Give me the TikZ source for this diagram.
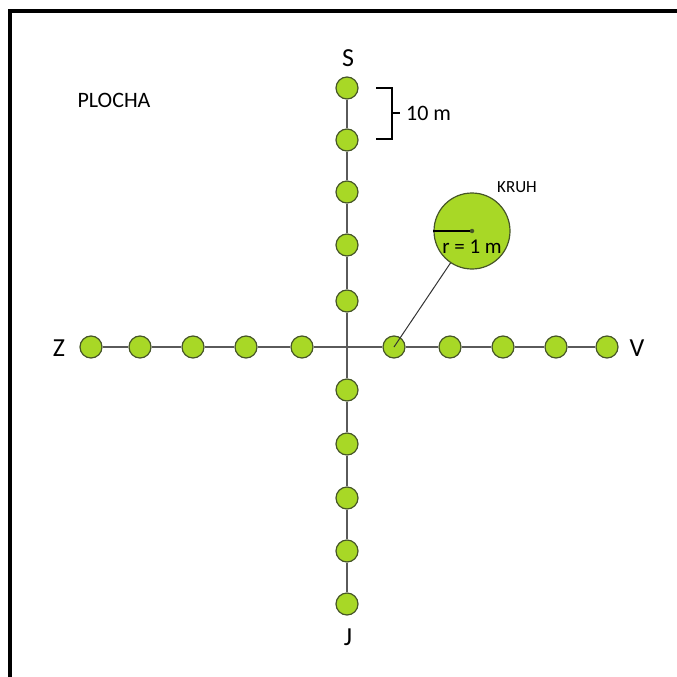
\documentclass[tikz,border=0pt]{standalone}
\usepackage{fontspec}
\setmainfont{Carlito}
\definecolor{lime}{RGB}{168,216,38}
\definecolor{limeedge}{RGB}{70,85,40}
\definecolor{axis}{RGB}{90,90,90}
\begin{document}
\begin{tikzpicture}[x=1pt,y=-1pt,
  dot/.style={circle,draw=limeedge,fill=lime,line width=1.2pt,minimum size=22pt,inner sep=0pt},
  axisline/.style={draw=axis,line width=1.6pt},
  lbl/.style={font=\fontsize{26}{30}\selectfont,inner sep=0pt},
  frame/.style={line width=3.5pt,black}]
\useasboundingbox (0,0) rectangle (677,677);
\draw[frame] (10,677) -- (10,11) -- (677,11);
% vertical axis nodes
\foreach \i/\y in {1/88,2/140,3/192,4/245,5/301,6/390,7/444,8/498,9/551,10/604}
  \node[dot] (v\i) at (347,\y) {};
% horizontal axis nodes
\foreach \i/\x in {1/91,2/140,3/193,4/246,5/302,6/394,7/450,8/503,9/556,10/607}
  \node[dot] (h\i) at (\x,347) {};
\coordinate (o) at (347,347);
\foreach \a/\b in {1/2,2/3,3/4,4/5,6/7,7/8,8/9,9/10} {
  \draw[axisline] (v\a) -- (v\b);
  \draw[axisline] (h\a) -- (h\b);
}
\draw[axisline] (v5) -- (o) -- (v6);
\draw[axisline] (h5) -- (o) -- (h6);
% labels
\node[lbl] (S) at (348,58) {S};
\node[lbl] (J) at (348,637) {J};
\node[lbl] (Z) at (59,348) {Z};
\node[lbl] (V) at (637,348) {V};
\node[font=\fontsize{22}{26}\selectfont,inner sep=0pt] (plocha) at (114,100) {PLOCHA};
% bracket
\coordinate (bt) at (376,88);
\coordinate (bb) at (376,139);
\draw[line width=1.3pt,black] (bt) -- ++(16,0) |- (bb);
\coordinate (bm) at (392,113);
\draw[line width=1.3pt,black] (bm) -- ++(8,0) coordinate (bme);
\node[font=\fontsize{22}{26}\selectfont,anchor=west,inner sep=0pt] (ten) at (406,113) {10 m};
% big circle
\node[circle,draw=limeedge,fill=lime,line width=1.2pt,minimum size=76pt,inner sep=0pt] (kruh) at (472,231) {};
\node[circle,fill=limeedge,minimum size=4.5pt,inner sep=0pt] (kc) at (kruh.center) {};
\draw[line width=1.3pt,black] (kc) -- (kruh.west);
\node[font=\fontsize{21}{24}\selectfont,inner sep=0pt] (r) at (472,247) {r = 1 m};
\node[font=\fontsize{17}{20}\selectfont,anchor=west,inner sep=0pt] (kruhlbl) at (497,187) {KRUH};
\draw[line width=1pt,black!80] (h6.center) -- (kruh);
\end{tikzpicture}
\end{document}
